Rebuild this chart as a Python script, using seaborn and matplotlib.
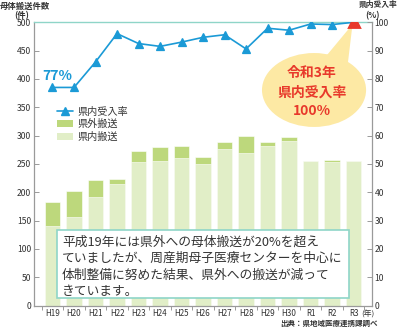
import numpy as np
import pandas as pd
import matplotlib
matplotlib.use("Agg")
import matplotlib.pyplot as plt
import seaborn as sns
from matplotlib.patches import Ellipse, Polygon, Rectangle, Patch
from matplotlib.lines import Line2D

sns.set_theme(style="white")
plt.rcParams["font.family"] = ["Noto Sans CJK JP", "DejaVu Sans"]

# 年度
years = ["H19", "H20", "H21", "H22", "H23", "H24", "H25", "H26",
         "H27", "H28", "H29", "H30", "R1", "R2", "R3"]
# 県内搬送（件）
inside = [141, 157, 191, 214, 253, 256, 261, 249, 276, 270, 281, 290, 255, 254, 255]
# 県外搬送（件）
outside = [42, 45, 31, 9, 19, 24, 20, 14, 13, 29, 7, 8, 1, 3, 0]
# 県内受入率（%）
rate = [77, 77, 86, 96, 92.5, 91.5, 93, 94.7, 95.6, 90.6, 97.9, 97.2, 99.4, 99.2, 100]

left_ticks = [0, 50, 100, 150, 200, 250, 300, 350, 400, 450, 500]
right_ticks = [0, 10, 20, 30, 40, 50, 60, 70, 80, 90, 100]

df = pd.DataFrame({"year": years, "inside": inside, "outside": outside, "rate": rate})
df["total"] = df["inside"] + df["outside"]
df["highlight"] = df["rate"].where(df["year"] == "R3")

C_OUT = "#bdd87c"
C_IN = "#e1eec7"
C_LINE = "#1b9ad6"
C_RED = "#e8392b"
C_TEAL = "#8fd5c8"
C_AXIS = "#9a9a9a"
C_TEXT = "#333333"

fig = plt.figure(figsize=(4, 3.27), dpi=100)
ax = fig.add_axes([0.085, 0.0657, 0.8458, 0.8661])

# stacked bars: total in dark green, in-prefecture part over it
sns.barplot(data=df, x="year", y="total", order=years, color=C_OUT, width=0.72,
            saturation=1, edgecolor="white", linewidth=0.4, ax=ax)
sns.barplot(data=df, x="year", y="inside", order=years, color=C_IN, width=0.72,
            saturation=1, edgecolor="white", linewidth=0.4, ax=ax)

ax2 = ax.twinx()
sns.pointplot(data=df, x="year", y="rate", order=years, color=C_LINE, markers="^",
              markersize=6, linewidth=1.2, ax=ax2)
sns.pointplot(data=df, x="year", y="highlight", order=years, color=C_RED, markers="^",
              markersize=6.5, linestyle="none", ax=ax2)
for coll in ax2.lines:
    coll.set_zorder(5)

ax.set_ylim(0, 500)
ax2.set_ylim(0, 100)
ax.set_xlim(-0.86, 14.87)
ax.set_xlabel("")
ax.set_ylabel("")
ax2.set_xlabel("")
ax2.set_ylabel("")

# x ticks: labels at centres, marks at category boundaries
ax.set_xticks(range(len(years)))
ax.set_xticklabels(years)
ax.set_xticks(np.arange(-0.5, len(years), 1.0), minor=True)
ax.tick_params(axis="x", which="major", length=0, pad=2.5, labelsize=5.8,
               labelcolor=C_TEXT)
ax.tick_params(axis="x", which="minor", length=3, width=0.7, color=C_AXIS,
               direction="out", bottom=True)
ax.set_yticks(left_ticks)
ax.tick_params(axis="y", which="major", length=3.5, width=0.7, color=C_AXIS,
               direction="in", pad=2, labelsize=6.2, labelcolor=C_TEXT, left=True)
ax2.set_yticks(right_ticks)
ax2.tick_params(axis="y", which="major", length=3.5, width=0.7, color=C_AXIS,
                direction="in", pad=1.5, labelsize=6.2, labelcolor=C_TEXT, right=True)

for sp in ["left", "bottom"]:
    ax.spines[sp].set_color(C_AXIS)
    ax.spines[sp].set_linewidth(0.9)
ax.spines["right"].set_visible(False)
ax.spines["top"].set_color(C_TEAL)
ax.spines["top"].set_linewidth(1.0)
for sp in ["left", "bottom", "top"]:
    ax2.spines[sp].set_visible(False)
ax2.spines["right"].set_color(C_AXIS)
ax2.spines["right"].set_linewidth(0.9)

# speech bubble for the R3 rate
bubble = Ellipse((12.16, 76.1), 4.84, 26.1, facecolor="#fde9a4", edgecolor="none", zorder=1)
tail = Polygon([(12.55, 86.5), (13.7, 83.5), (13.95, 99.3)], closed=True,
               facecolor="#fde9a4", edgecolor="none", zorder=1)
ax2.add_patch(tail)
ax2.add_patch(bubble)
for txt, yy in [("令和3年", 73.3), ("県内受入率", 93.0), ("100%", 111.0)]:
    fig.text(312 / 400, 1 - yy / 327, txt, ha="center", va="center", fontsize=10,
             fontweight="bold", color=C_RED)

fig.text(57.5 / 400, 1 - 75.5 / 327, "77%", ha="center", va="center", fontsize=10,
         fontweight="bold", color=C_LINE)

# legend
handles = [Line2D([], [], color=C_LINE, marker="^", markersize=5.5, linewidth=1.2),
           Patch(facecolor=C_OUT, edgecolor="none"),
           Patch(facecolor=C_IN, edgecolor="none")]
leg = ax2.legend(handles, ["県内受入率", "県外搬送", "県内搬送"], loc="upper left",
                 bbox_to_anchor=(57 / 400, 1 - 107 / 327), bbox_transform=fig.transFigure,
                 frameon=False, fontsize=7.3, handlelength=1.6, handleheight=0.7,
                 handletextpad=0.4, labelspacing=0.22, borderpad=0, borderaxespad=0)
for t in leg.get_texts():
    t.set_color(C_TEXT)
leg.set_zorder(6)

# note box
box = Rectangle((57 / 400, 1 - 298 / 327), (349 - 57) / 400, (298 - 230) / 327,
                transform=fig.transFigure, facecolor="white", edgecolor=C_TEAL,
                linewidth=1.2, zorder=10)
fig.patches.append(box)
note = ["平成19年には県外への母体搬送が20%を超え",
        "ていましたが、周産期母子医療センターを中心に",
        "体制整備に努めた結果、県外への搬送が減って",
        "きています。"]
for i, line in enumerate(note):
    fig.text(62 / 400, 1 - (242 + 16.5 * i) / 327, line, ha="left", va="center",
             fontsize=9.2, color=C_TEXT, zorder=11)

# axis titles and source
fig.text(0.0, 1 - 6 / 327, "母体搬送件数", ha="left", va="center", fontsize=6,
         fontweight="bold", color=C_TEXT)
fig.text(21.7 / 400, 1 - 15.5 / 327, "(件)", ha="center", va="center", fontsize=6,
         fontweight="bold", color=C_TEXT)
fig.text(378 / 400, 1 - 5 / 327, "県内受入率", ha="center", va="center", fontsize=5.6,
         fontweight="bold", color=C_TEXT)
fig.text(372 / 400, 1 - 15.5 / 327, "(%)", ha="center", va="center", fontsize=6,
         fontweight="bold", color=C_TEXT)
fig.text(367.5 / 400, 1 - 314.5 / 327, "(年)", ha="center", va="center", fontsize=5.6,
         color=C_TEXT)
fig.text(378 / 400, 1 - 323 / 327, "出典：県地域医療連携課調べ", ha="right", va="center",
         fontsize=5.4, fontweight="bold", color=C_TEXT)

fig.savefig("out.png", dpi=100)
